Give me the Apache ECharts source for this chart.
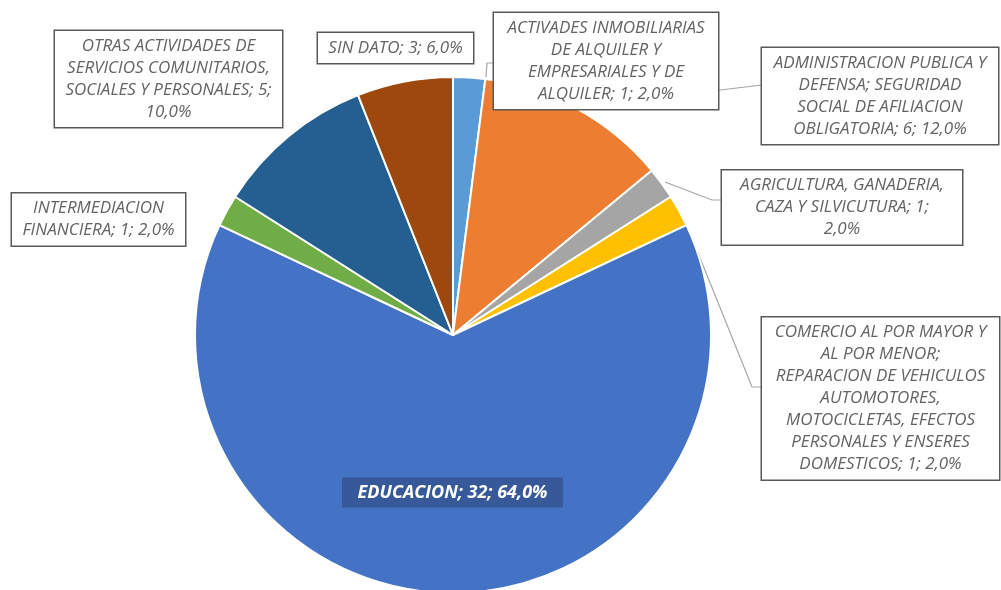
<!DOCTYPE html>
<html>
<head>
<meta charset="utf-8">
<script src="https://cdn.jsdelivr.net/npm/echarts@6/dist/echarts.min.js"></script>
<style>html,body{margin:0;padding:0;background:#fff;}#c{width:1001px;height:590px;}</style>
</head>
<body>
<div id="c"></div>
<script>
// ---- data ----
const categories = [
  'ACTIVADES INMOBILIARIAS DE ALQUILER Y EMPRESARIALES Y DE ALQUILER',
  'ADMINISTRACION PUBLICA Y DEFENSA; SEGURIDAD SOCIAL DE AFILIACION OBLIGATORIA',
  'AGRICULTURA, GANADERIA, CAZA Y SILVICUTURA',
  'COMERCIO AL POR MAYOR Y AL POR MENOR; REPARACION DE VEHICULOS AUTOMOTORES, MOTOCICLETAS, EFECTOS PERSONALES Y ENSERES DOMESTICOS',
  'EDUCACION',
  'INTERMEDIACION FINANCIERA',
  'OTRAS ACTIVIDADES DE SERVICIOS COMUNITARIOS, SOCIALES Y PERSONALES',
  'SIN DATO'
];
const values = [1, 6, 1, 1, 32, 1, 5, 3];
// label text templates (line wrapping as in the original)
const labelTemplates = [
  'ACTIVADES INMOBILIARIAS\nDE ALQUILER Y\nEMPRESARIALES Y DE\nALQUILER; {v}; {p}',
  'ADMINISTRACION PUBLICA Y\nDEFENSA; SEGURIDAD\nSOCIAL DE AFILIACION\nOBLIGATORIA; {v}; {p}',
  'AGRICULTURA, GANADERIA,\nCAZA Y SILVICUTURA; {v};\n{p}',
  'COMERCIO AL POR MAYOR Y\nAL POR MENOR;\nREPARACION DE VEHICULOS\nAUTOMOTORES,\nMOTOCICLETAS, EFECTOS\nPERSONALES Y ENSERES\nDOMESTICOS; {v}; {p}',
  'EDUCACION; {v}; {p}',
  'INTERMEDIACION\nFINANCIERA; {v}; {p}',
  'OTRAS ACTIVIDADES DE\nSERVICIOS COMUNITARIOS,\nSOCIALES Y PERSONALES; {v};\n{p}',
  'SIN DATO; {v}; {p}'
];

// ---- layout / style ----
const colors = ['#5B9BD5', '#ED7D31', '#A5A5A5', '#FFC000', '#4472C4', '#70AD47', '#255E91', '#9E480E'];
// label boxes [x0, y0, x1, y1]
const labelBoxes = [
  [494, 12, 718, 110],
  [762, 45, 998, 147],
  [722, 175, 962, 240],
  [762, 315, 999, 482],
  [342, 478, 563, 507],
  [12, 192, 185, 247],
  [55, 28, 282, 130],
  [318, 33, 473, 63]
];
const leaderLines = [
  [[486, 77], [487, 63], [494, 63]],
  [[577, 107], [670, 96], [762, 85]],
  [[665, 182], [712, 200], [722, 200]],
  [[688, 228], [752, 387], [762, 387]],
  null, null, null, null
];

const total = values.reduce((a, b) => a + b, 0);
function pct(v) { return (v / total * 100).toFixed(1).replace('.', ',') + '%'; }

const data = categories.map((name, i) => {
  const b = labelBoxes[i];
  const isEdu = i === 4;
  return {
    name: name,
    value: values[i],
    itemStyle: { color: colors[i] },
    label: isEdu ? {
      color: '#ffffff',
      fontWeight: 'bold',
      fontStyle: 'italic',
      fontSize: 18,
      backgroundColor: 'rgba(50,78,135,0.7)',
      borderWidth: 0,
      padding: [5, 4],
      width: b[2] - b[0] - 8,
      lineHeight: 20
    } : {
      width: b[2] - b[0] - 6
    },
    labelLine: { show: !!leaderLines[i] }
  };
});

const chart = echarts.init(document.getElementById('c'), null, { renderer: 'canvas' });
chart.setOption({
  animation: false,
  backgroundColor: '#ffffff',
  series: [{
    type: 'pie',
    center: [453, 335],
    radius: 258,
    startAngle: 90,
    clockwise: true,
    avoidLabelOverlap: false,
    data: data,
    itemStyle: { borderColor: '#ffffff', borderWidth: 2 },
    label: {
      show: true,
      position: 'outside',
      formatter: p => labelTemplates[p.dataIndex].replace('{v}', p.value).replace('{p}', pct(p.value)),
      fontFamily: 'Open Sans',
      fontStyle: 'italic',
      fontSize: 17,
      lineHeight: 22,
      color: '#636363',
      backgroundColor: '#ffffff',
      borderColor: '#595959',
      borderWidth: 1.5,
      padding: [4, 3],
      align: 'center'
    },
    labelLine: { show: true, lineStyle: { color: '#A6A6A6', width: 1.2 } },
    labelLayout: function (p) {
      const b = labelBoxes[p.dataIndex];
      const r = { x: (b[0] + b[2]) / 2, y: (b[1] + b[3]) / 2, align: 'center', verticalAlign: 'middle' };
      if (leaderLines[p.dataIndex]) r.labelLinePoints = leaderLines[p.dataIndex];
      return r;
    }
  }]
});
</script>
</body>
</html>
